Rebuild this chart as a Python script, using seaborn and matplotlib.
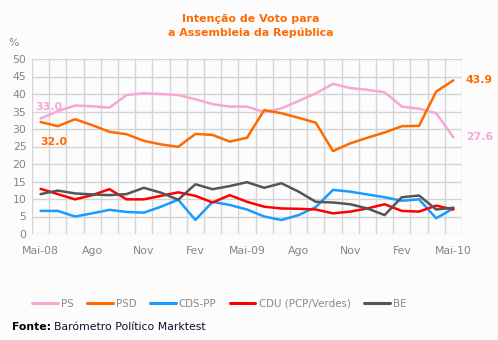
import numpy as np
import pandas as pd
import seaborn as sns
import matplotlib.pyplot as plt
from matplotlib.ticker import FixedLocator

# Monthly voting-intention estimates (%), May 2008 - May 2010
months = ["Mai-08", "Jun-08", "Jul-08", "Ago-08", "Set-08", "Out-08", "Nov-08",
          "Dez-08", "Jan-09", "Fev-09", "Mar-09", "Abr-09", "Mai-09", "Jun-09",
          "Jul-09", "Ago-09", "Set-09", "Out-09", "Nov-09", "Dez-09", "Jan-10",
          "Fev-10", "Mar-10", "Abr-10", "Mai-10"]
ps = [33.0, 35.1, 36.7, 36.5, 36.1, 39.7, 40.2, 40.0, 39.7, 38.5, 37.1, 36.4, 36.4,
      34.8, 35.9, 38.0, 40.2, 42.9, 41.7, 41.2, 40.5, 36.4, 35.8, 34.5, 27.6]
psd = [32.0, 30.8, 32.8, 31.1, 29.2, 28.5, 26.6, 25.6, 24.9, 28.6, 28.3, 26.4, 27.5,
       35.4, 34.5, 33.2, 31.8, 23.7, 25.9, 27.5, 29.0, 30.8, 30.9, 40.7, 43.9]
cds = [6.6, 6.6, 5.0, 5.9, 6.9, 6.3, 6.1, 7.8, 9.8, 4.0, 9.2, 8.3, 7.0,
       5.0, 4.0, 5.4, 7.7, 12.6, 12.1, 11.3, 10.5, 9.5, 9.9, 4.5, 7.3]
cdu = [12.9, 11.4, 9.9, 11.1, 12.8, 9.9, 9.9, 10.9, 11.9, 10.9, 9.0, 11.1, 9.2,
       7.8, 7.3, 7.2, 7.0, 5.9, 6.4, 7.3, 8.5, 6.6, 6.4, 8.1, 7.0]
be = [11.4, 12.4, 11.6, 11.3, 11.1, 11.4, 13.2, 11.8, 9.8, 14.2, 12.8, 13.7, 14.8,
      13.2, 14.5, 12.1, 9.2, 9.0, 8.5, 7.3, 5.4, 10.5, 11.0, 7.0, 7.5]

parties = ["PS", "PSD", "CDS-PP", "CDU (PCP/Verdes)", "BE"]
colors = ["#F5A8D4", "#FF6A00", "#1A9BFF", "#FF0000", "#555555"]
tick_pos = [0, 3, 6, 9, 12, 15, 18, 21, 24]
tick_labels = ["Mai-08", "Ago", "Nov", "Fev", "Mai-09", "Ago", "Nov", "Fev", "Mai-10"]

series = {"PS": ps, "PSD": psd, "CDS-PP": cds, "CDU (PCP/Verdes)": cdu, "BE": be}
df = pd.concat(
    [pd.DataFrame({"mes": np.arange(len(months)), "valor": v, "partido": k})
     for k, v in series.items()],
    ignore_index=True,
)

sns.set_theme(style="white")
plt.rcParams["font.family"] = ["DejaVu Sans"]
bg = "#FCFCFC"
W, H = 498, 340
fig = plt.figure(figsize=(W / 100, H / 100), dpi=100, facecolor=bg)
ax = fig.add_axes([32 / W, (H - 234) / H, (462 - 32) / W, (234 - 59) / H])
ax.set_facecolor(bg)

sns.lineplot(data=df, x="mes", y="valor", hue="partido", hue_order=parties,
             palette=dict(zip(parties, colors)), linewidth=1.8, ax=ax,
             legend=False)
for line in ax.get_lines():
    line.set_solid_joinstyle("round")
    line.set_solid_capstyle("round")

ax.set_xlim(-0.5, len(months) - 0.5)
ax.set_ylim(0, 50)
ax.set_yticks(range(0, 51, 5))
ax.set_xticks(tick_pos)
ax.set_xticklabels(tick_labels)
ax.xaxis.set_minor_locator(FixedLocator(np.arange(-0.5, len(months), 1.0)))
ax.grid(False)
ax.grid(True, which="minor", axis="x", color="#D4D4D4", linewidth=1)
ax.grid(True, which="major", axis="y", color="#D4D4D4", linewidth=1)
ax.set_axisbelow(True)
for s in ax.spines.values():
    s.set_visible(False)
ax.tick_params(axis="both", which="both", length=0, labelsize=7.8,
               labelcolor="#8A8090")
ax.tick_params(axis="y", pad=4)
ax.tick_params(axis="x", pad=9)
ax.set_xlabel("")
ax.set_ylabel("")

# Start / end value labels
ax.annotate(f"{ps[0]:.1f}", (0, ps[0]), xytext=(-4, 5), textcoords="offset points",
            color=colors[0], fontsize=7.8, fontweight="bold", ha="left", va="bottom")
ax.annotate(f"{psd[0]:.1f}", (0, psd[0]), xytext=(0, -11), textcoords="offset points",
            color=colors[1], fontsize=7.8, fontweight="bold", ha="left", va="top")
ax.annotate(f"{psd[-1]:.1f}", (24, psd[-1]), xytext=(9, 0), textcoords="offset points",
            color=colors[1], fontsize=7.8, fontweight="bold", ha="left", va="center")
ax.annotate(f"{ps[-1]:.1f}", (24, ps[-1]), xytext=(9, 0), textcoords="offset points",
            color=colors[0], fontsize=7.8, fontweight="bold", ha="left", va="center")

fig.text(251 / W, 1 - 26 / H, "Intenção de Voto para\na Assembleia da República",
         ha="center", va="center", color="#FF6A00", fontsize=7.9,
         fontweight="bold", linespacing=1.4)
fig.text(8 / W, 1 - 43 / H, "%", ha="left", va="center", color="#8A8090",
         fontsize=7.8)

handles = [plt.Line2D([], [], color=c, linewidth=2.2) for c in colors]
fig.legend(handles, parties, loc="center left", bbox_to_anchor=(23 / W, 1 - 304 / H),
           ncol=5, frameon=False, fontsize=7.4, handlelength=2.5,
           handletextpad=0.3, columnspacing=1.3, labelcolor="#8A8A8A")

fig.text(12 / W, 1 - 327 / H, "Fonte:", ha="left", va="center", color="black",
         fontsize=7.8, fontweight="bold")
fig.text(54 / W, 1 - 327 / H, "Barómetro Político Marktest", ha="left", va="center",
         color="#1A0A2A", fontsize=7.8)

fig.savefig("out.png", dpi=100, facecolor=bg)
